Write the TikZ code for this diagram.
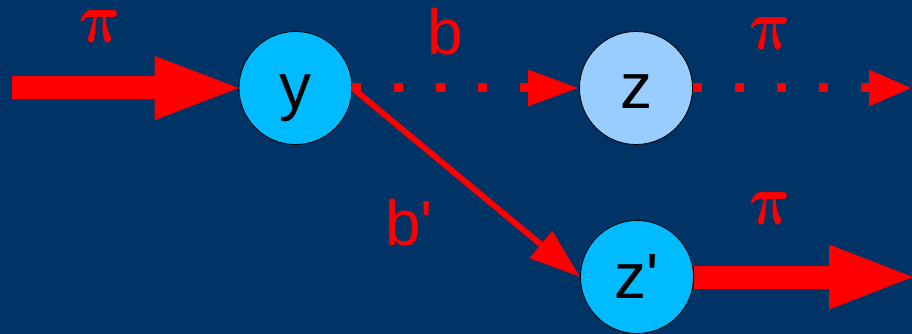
\documentclass[tikz,border=0pt]{standalone}
\usepackage{fontspec}
\setmainfont{Liberation Sans}
\usetikzlibrary{arrows.meta}
\definecolor{bg}{RGB}{0,51,102}
\definecolor{nodeA}{RGB}{0,187,255}
\definecolor{nodeB}{RGB}{153,204,255}
\begin{document}
\begin{tikzpicture}[x=1pt,y=-1pt,
 vnode/.style={circle,draw=black,line width=0.8pt,minimum size=113pt,inner sep=0pt,font=\fontsize{64}{70}\selectfont,text height=42pt,text depth=0pt},
 lbl/.style={text=red,font=\fontsize{64}{70}\selectfont,inner sep=0pt,anchor=base west},
 pilbl/.style={text=red,inner sep=0pt,anchor=base,xslant=-0.1,transform shape},
 bigarrow/.style={red,line width=23pt,shorten >=-7pt,-{Triangle[length=91pt,width=56pt]}},
 dotarrow/.style={red,line width=9pt,dash pattern=on 9pt off 33pt,-{Triangle[length=51pt,width=34pt]}},
 thinarrow/.style={red,line width=6pt,-{Triangle[length=51pt,width=34pt]}}]
\fill[bg] (0,0) rectangle (912,334);
\useasboundingbox (0,0) rectangle (912,334);
\node[vnode,fill=nodeA] (y) at (295.5,88) {y};
\node[vnode,fill=nodeB] (z) at (636,88) {z};
\node[vnode,fill=nodeA] (zp) at (637,277) {z\textquotesingle};
\coordinate (s1) at (12,88);
\coordinate (e1) at (912,88);
\coordinate (e2) at (912,277);
\draw[bigarrow] (s1) -- (y.west);
\draw[bigarrow,-{Triangle[length=90pt,width=57pt]}] (zp.east) -- (e2);
\draw[dotarrow] (y.east) -- (z.west);
\draw[dotarrow,-{Triangle[length=43pt,width=34pt]}] (z.east) -- (e1);
\draw[thinarrow] (y.east) -- (zp.west);
\node[lbl] (lb) at (427,55) {b};
\node[lbl] (lbp) at (385,245) {b\textquotesingle};
\node[pilbl] (p1) at (102,43) {\scalebox{5.8}[7.2]{\boldmath$\pi$}};
\node[pilbl] (p2) at (772,50) {\scalebox{5.8}[7.2]{\boldmath$\pi$}};
\node[pilbl] (p3) at (772,224) {\scalebox{5.8}[7.2]{\boldmath$\pi$}};
\end{tikzpicture}
\end{document}
